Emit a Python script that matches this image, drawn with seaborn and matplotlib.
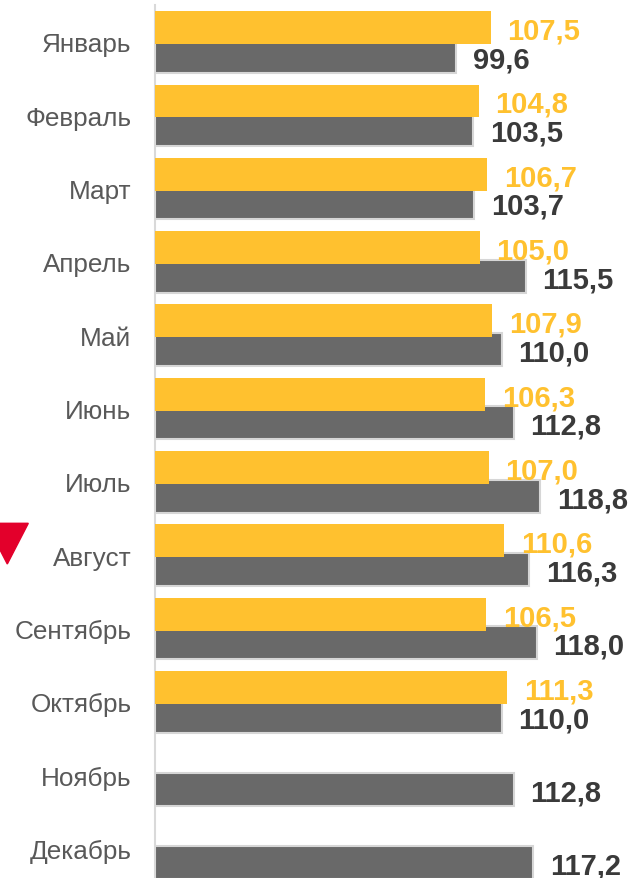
import matplotlib
matplotlib.use('Agg')
import matplotlib.pyplot as plt
from matplotlib.patches import Polygon
import numpy as np
import pandas as pd
import seaborn as sns

# monthly indices, current year (yellow) vs previous year (gray)
months = ['Январь', 'Февраль', 'Март', 'Апрель', 'Май', 'Июнь', 'Июль',
          'Август', 'Сентябрь', 'Октябрь', 'Ноябрь', 'Декабрь']
cur_year = [107.5, 104.8, 106.7, 105.0, 107.9, 106.3, 107.0,
            110.6, 106.5, 111.3, np.nan, np.nan]
prev_year = [99.6, 103.5, 103.7, 115.5, 110.0, 112.8, 118.8,
             116.3, 118.0, 110.0, 112.8, 117.2]

yellow = '#FFC12F'
gray = '#696969'

df = pd.concat([
    pd.DataFrame({'month': months, 'value': cur_year, 'series': 'cur'}),
    pd.DataFrame({'month': months, 'value': prev_year, 'series': 'prev'}),
]).dropna()

sns.set_style('white')
plt.rcParams['font.family'] = ['Liberation Sans', 'DejaVu Sans']

fig = plt.figure(figsize=(6.31, 8.79), dpi=100)
ax = fig.add_axes([155 / 631, -0.008, 476 / 631, 1.0008])

sns.barplot(data=df, y='month', x='value', hue='series', order=months,
            hue_order=['cur', 'prev'], palette=[yellow, gray], orient='h',
            width=0.78, dodge=True, legend=False, saturation=1, ax=ax)

# make bars a bit taller so yellow overlaps gray slightly
for cont, col in zip(ax.containers, [yellow, gray]):
    for p in cont.patches:
        c = p.get_y() + p.get_height() / 2
        p.set_y(c - 0.225)
        p.set_height(0.45)
        if col == yellow:
            p.set_zorder(3)
            p.set_edgecolor('none')
        else:
            p.set_zorder(2)
            p.set_edgecolor('#d6d6d6')
            p.set_linewidth(1.5)

for cont, col in zip(ax.containers, [yellow, '#3a3a3a']):
    for p in cont.patches:
        w = p.get_width()
        if not np.isfinite(w) or w == 0:
            continue
        ax.annotate(f'{w:.1f}'.replace('.', ','),
                    (w, p.get_y() + p.get_height() / 2),
                    xytext=(12, 0), textcoords='offset points',
                    ha='left', va='center_baseline', fontsize=21,
                    fontweight='bold', color=col, zorder=5)

ax.set_xlim(30.7, 139.6)
ax.set_ylim(11.5, -0.5)
ax.set_xlabel('')
ax.set_ylabel('')
ax.set_xticks([])
ax.tick_params(axis='y', length=0, pad=17, labelsize=18.8, labelcolor='#595959')
for s in ['top', 'right', 'bottom']:
    ax.spines[s].set_visible(False)
ax.spines['left'].set_color('#d9d9d9')
ax.spines['left'].set_linewidth(1.5)

# red marker next to August
tri = Polygon([[-13.7, 879 - 524.3], [28.3, 879 - 524.3], [7.3, 879 - 565]],
              closed=True, color='#E3002B', transform=None)
fig.patches.append(tri)

fig.savefig('out.png', dpi=100)
